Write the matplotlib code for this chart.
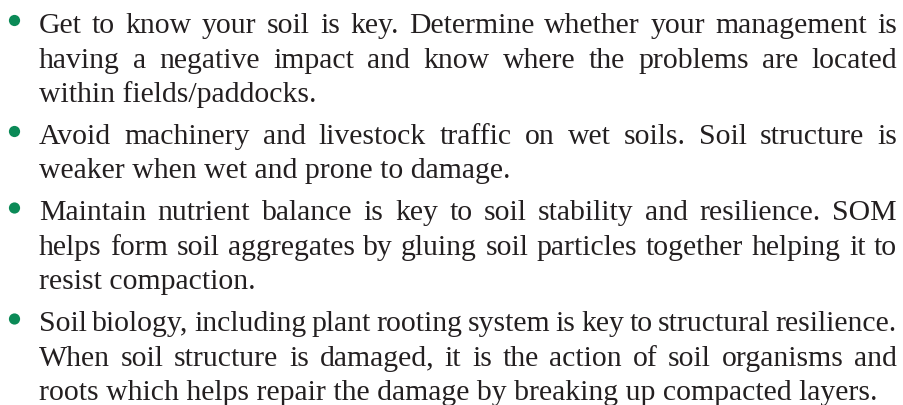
import matplotlib
matplotlib.use("Agg")
import matplotlib.pyplot as plt
from matplotlib.patches import Circle

# bullet paragraphs, already broken into the lines seen in the picture
para1 = [
    "Get to know your soil is key. Determine whether your management is",
    "having a negative impact and know where the problems are located",
    "within fields/paddocks.",
]
para2 = [
    "Avoid machinery and livestock traffic on wet soils. Soil structure is",
    "weaker when wet and prone to damage.",
]
para3 = [
    "Maintain nutrient balance is key to soil stability and resilience. SOM",
    "helps form soil aggregates by gluing soil particles together helping it to",
    "resist compaction.",
]
para4 = [
    "Soil biology, including plant rooting system is key to structural resilience.",
    "When soil structure is damaged, it is the action of soil organisms and",
    "roots which helps repair the damage by breaking up compacted layers.",
]
paragraphs = [para1, para2, para3, para4]

W, H = 904, 406
text_color = "#231f20"
bullet_color = "#0b8a57"
left, right = 39, 897
first_base = 33
line_step = 34.5
para_extra = 7.5
fsize = 21.4
font = "Liberation Serif"

fig = plt.figure(figsize=(W / 100, H / 100), dpi=100)
ax = fig.add_axes([0, 0, 1, 1])
ax.set_xlim(0, W)
ax.set_ylim(H, 0)
ax.axis("off")
renderer = fig.canvas.get_renderer()


def word_width(s):
    t = ax.text(0, 0, s, fontsize=fsize, family=font)
    w = t.get_window_extent(renderer).width
    t.remove()
    return w


y = first_base
for para in paragraphs:
    ax.add_patch(Circle((14.5, y - 11.5), 5.6, color=bullet_color, lw=0))
    for i, line in enumerate(para):
        if i == len(para) - 1:
            ax.text(left, y, line, fontsize=fsize, family=font,
                    color=text_color, va="baseline", ha="left")
        else:
            # justified: spread words across the full column width
            words = line.split(" ")
            widths = [word_width(w) for w in words]
            gap = (right - left - sum(widths)) / (len(words) - 1)
            x = left
            for w, ww in zip(words, widths):
                ax.text(x, y, w, fontsize=fsize, family=font,
                        color=text_color, va="baseline", ha="left")
                x += ww + gap
        y += line_step
    y += para_extra

fig.savefig("out.png", dpi=100)
